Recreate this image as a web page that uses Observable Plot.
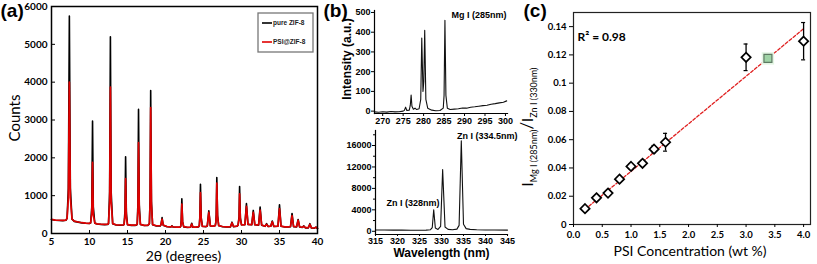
<!DOCTYPE html>
<html><head><meta charset="utf-8">
<script src="https://cdn.jsdelivr.net/npm/d3@7"></script>
<script src="https://cdn.jsdelivr.net/npm/@observablehq/plot@0.6"></script>
<style>
html,body{margin:0;padding:0;background:#fff;}
#fig{position:relative;width:817px;height:264px;overflow:hidden;background:#fff;}
#fig svg{position:absolute;left:0;top:0;background:transparent !important;overflow:visible;}
</style></head><body><div id="fig"></div>
<script>
// ---------- Panel (a) XRD ----------
const xrdAngle = [5.0,5.5,6.0,6.5,6.9,7.05,7.22,7.35,7.48,7.7,8.0,8.5,9.0,9.5,10.0,10.15,10.3,10.4,10.5,10.7,11.0,11.5,12.0,12.4,12.5,12.65,12.75,12.85,13.05,13.5,14.0,14.45,14.55,14.67,14.75,14.85,15.0,15.5,16.0,16.2,16.28,16.37,16.45,16.55,16.7,17.2,17.7,17.88,17.97,18.05,18.15,18.3,18.8,19.3,19.4,19.55,19.7,20.2,20.7,20.85,21.0,21.5,21.9,22.0,22.07,22.15,22.25,22.4,22.9,23.3,23.45,23.6,24.0,24.35,24.45,24.52,24.6,24.7,24.85,25.3,25.5,25.7,25.9,26.3,26.55,26.62,26.68,26.75,26.85,27.0,27.5,28.0,28.55,28.75,28.95,29.4,29.55,29.68,29.75,29.85,30.0,30.45,30.65,30.85,31.35,31.55,31.75,32.25,32.45,32.65,33.1,33.3,33.5,33.85,34.05,34.25,34.8,35.0,35.2,35.7,36.2,36.45,36.65,36.85,37.25,37.45,37.65,38.0,38.2,38.4,38.8,39.0,39.2,39.6,39.8,40.0];
const pureCounts = [370,350,345,340,350,400,1200,5750,1200,380,320,300,280,270,265,280,700,2970,700,270,250,240,235,240,260,1100,5200,1100,260,225,220,225,240,600,2030,550,230,215,215,225,250,800,3280,750,240,210,215,260,900,3780,850,230,200,200,230,420,220,180,170,200,170,165,165,190,350,920,320,175,160,165,270,165,165,175,210,450,1300,420,190,180,200,600,200,190,210,300,500,1480,480,210,180,170,175,300,180,190,220,450,1240,420,230,230,790,240,230,610,230,220,700,220,190,260,185,190,330,185,190,760,190,170,170,180,530,180,175,370,170,160,200,150,150,260,145,140,170,130];
const psiCounts  = [375,355,350,345,355,400,950,4000,950,380,325,305,285,275,270,285,520,1880,500,275,255,245,240,245,260,850,3870,850,260,230,225,230,240,460,1450,430,235,220,220,230,250,620,2400,600,240,215,220,260,800,3330,760,235,205,205,230,380,220,185,175,195,175,170,170,190,310,780,290,180,165,170,250,170,170,180,205,390,1080,370,190,185,200,560,200,195,210,280,450,1330,430,210,185,175,180,280,185,195,220,390,1050,370,230,235,720,240,235,560,235,225,620,225,195,240,190,195,310,190,195,660,195,175,175,185,470,185,180,350,175,165,190,155,155,240,150,145,165,135];
const xTicksA = [5,10,15,20,25,30,35,40];
const yTicksA = [0,1000,2000,3000,4000,5000,6000];
const legendA = ["pure ZIF-8", "PSI@ZIF-8"];
const colorsA = ["#000000", "#e00000"];

// ---------- Panel (b) emission spectra ----------
const mgWl  = [268,269,270,271,272,273,274,275,275.3,275.6,275.9,276.5,276.75,276.95,277.15,277.5,277.9,278.3,278.9,279.3,279.55,279.85,280.05,280.27,280.55,281.0,282,283,284,284.8,285.0,285.21,285.45,285.8,286.5,287.5,288.5,289.5,290.5,291.5,292.5,293.5,294.5,295.5,296.5,297.5,298.5,299.5,300.3];
const mgInt = [-4,-6,-3,-5,-2,-4,-3,0,4,20,3,5,30,82,25,10,15,8,12,60,370,100,150,410,60,15,5,2,3,15,80,460,80,15,8,10,12,16,15,20,22,25,28,30,35,38,42,45,52];
const znWl  = [315,317,319,321,323,325,326.5,327.5,327.9,328.23,328.6,329.2,329.8,330.26,330.8,331.5,332.5,333.5,334.0,334.5,335.0,335.6,336.5,338,340,342,345];
const znInt = [250,230,220,210,200,200,220,300,700,4000,600,350,900,11500,800,350,300,400,1100,16900,1300,500,350,280,250,230,220];
const xTicksMg = [270,275,280,285,290,295,300];
const yTicksMg = [0,100,200,300,400,500];
const xTicksZn = [315,320,325,330,335,340,345];
const yTicksZn = [0,4000,8000,12000,16000];
const yMinorZn = [2000,6000,10000,14000,18000];

// ---------- Panel (c) calibration ----------
const psiConc  = [0.2,0.4,0.6,0.8,1.0,1.2,1.4,1.6,3.0,4.0];
const ratio    = [0.0112,0.0189,0.0222,0.0321,0.0411,0.0433,0.0533,0.0582,0.1183,0.1297];
const ratioErr = [0.0011,0.0012,0.0012,0.0011,0.0017,0.0020,0.0026,0.0063,0.0094,0.0132];
const sampleX = [3.38], sampleY = [0.1175];
const fitX = [0.2, 4.0], fitY = [0.0107, 0.1385];
const xTicksC = [0,0.5,1.0,1.5,2.0,2.5,3.0,3.5,4.0];
const yTicksC = [0,0.02,0.04,0.06,0.08,0.1,0.12,0.14];

// ---------- build ----------
const W = 817, H = 264;
const fontA = "Lato, 'Open Sans', sans-serif";
const fontB = "'Liberation Sans', Arial, sans-serif";
const fig = document.getElementById("fig");
const base = (ff) => ({width: W, height: H, style: {background: "transparent", overflow: "visible", fontFamily: ff}});
const plain = d => String(d);

// Panel (a)
const xrd = xrdAngle.map((a, i) => ({a, pure: pureCounts[i], psi: psiCounts[i]}));
const pA = Plot.plot({
  ...base(fontA),
  marginLeft: 51, marginRight: W - 317, marginTop: 6, marginBottom: H - 233,
  x: {domain: [5, 40]},
  y: {domain: [0, 6000]},
  marks: [
    Plot.line(xrd, {x: "a", y: "pure", stroke: colorsA[0], strokeWidth: 1.6}),
    Plot.line(xrd, {x: "a", y: "psi", stroke: colorsA[1], strokeWidth: 1.7}),
    Plot.frame({stroke: "#000", strokeWidth: 1.5}),
    Plot.axisX({ticks: xTicksA, tickFormat: plain, tickSize: -3, tickPadding: 7, fontSize: 10, fontWeight: "bold", label: null}),
    Plot.axisY({ticks: yTicksA, tickFormat: plain, tickSize: -4, tickPadding: 8, fontSize: 10, fontWeight: "bold", label: null}),
    Plot.text(["Counts"], {text: d => d, frameAnchor: "left", textAnchor: "middle", lineAnchor: "middle", dx: -36, dy: -2, rotate: -90, fontSize: 15}),
    Plot.text(["2θ (degrees)"], {text: d => d, frameAnchor: "bottom", textAnchor: "middle", lineAnchor: "middle", dx: -1, dy: 23, fontSize: 14}),
    Plot.text(["(a)"], {text: d => d, frameAnchor: "top-left", textAnchor: "start", lineAnchor: "middle", dx: -51, dy: 4, fontSize: 19, fontWeight: "bold", fontFamily: fontB})
  ]
});
fig.appendChild(pA);
{
  const sx = pA.scale("x"), sy = pA.scale("y");
  const right = sx.range[1], top = sy.range[1];
  const g = d3.select(pA).append("g").attr("font-family", fontB).attr("text-anchor", "start");
  g.append("rect").attr("x", right - 59).attr("y", top + 7).attr("width", 55).attr("height", 39)
    .attr("fill", "#fff").attr("stroke", "#777").attr("stroke-width", 1.3);
  legendA.forEach((t, i) => {
    const yy = top + 17 + i * 19;
    g.append("line").attr("x1", right - 55).attr("x2", right - 45).attr("y1", yy).attr("y2", yy)
      .attr("stroke", colorsA[i]).attr("stroke-width", 1.6);
    g.append("text").attr("x", right - 44).attr("y", yy).attr("dy", "0.35em").attr("text-anchor", "start")
      .attr("font-size", 6.5).attr("font-weight", "bold").attr("fill", "#222").text(t);
  });
}

// Panel (b) top: Mg
const mg = mgWl.map((w, i) => ({w, v: mgInt[i]}));
const pB1 = Plot.plot({
  ...base(fontB),
  marginLeft: 374, marginRight: W - 507, marginTop: 10, marginBottom: H - 113,
  x: {domain: [268, 300.5]},
  y: {domain: [-12, 510]},
  marks: [
    Plot.line(mg, {x: "w", y: "v", stroke: "#111", strokeWidth: 1.1}),
    Plot.frame({anchor: "left", stroke: "#000", strokeWidth: 1.2}),
    Plot.frame({anchor: "bottom", stroke: "#000", strokeWidth: 1.2}),
    Plot.axisX({ticks: xTicksMg, tickFormat: plain, tickSize: 3, tickPadding: 1, fontSize: 9, fontWeight: "bold", label: null}),
    Plot.axisY({ticks: yTicksMg, tickFormat: plain, tickSize: 3, tickPadding: 1, fontSize: 9, fontWeight: "bold", label: null}),
    Plot.text(["Intensity (a.u.)"], {text: d => d, frameAnchor: "left", textAnchor: "middle", lineAnchor: "middle", dx: -27, dy: -3, rotate: -90, fontSize: 12, fontWeight: "bold"}),
    Plot.text(["Mg I (285nm)"], {text: d => d, frameAnchor: "top-right", textAnchor: "end", lineAnchor: "middle", dx: -1, dy: 5, fontSize: 9, fontWeight: "bold"}),
    Plot.text(["(b)"], {text: d => d, frameAnchor: "top-left", textAnchor: "start", lineAnchor: "middle", dx: -51, dy: 0, fontSize: 19, fontWeight: "bold"})
  ]
});
fig.appendChild(pB1);

// Panel (b) bottom: Zn
const zn = znWl.map((w, i) => ({w, v: znInt[i]}));
const pB2 = Plot.plot({
  ...base(fontB),
  marginLeft: 375, marginRight: W - 507, marginTop: 130, marginBottom: H - 234,
  x: {domain: [315, 345]},
  y: {domain: [-600, 18800]},
  marks: [
    Plot.line(zn, {x: "w", y: "v", stroke: "#111", strokeWidth: 1.1}),
    Plot.frame({anchor: "left", stroke: "#000", strokeWidth: 1.2}),
    Plot.frame({anchor: "bottom", stroke: "#000", strokeWidth: 1.2}),
    Plot.axisX({ticks: xTicksZn, tickFormat: plain, tickSize: 2, tickPadding: 1, fontSize: 9, fontWeight: "bold", label: null}),
    Plot.axisY({ticks: yTicksZn, tickFormat: plain, tickSize: 3, tickPadding: 1, fontSize: 9, fontWeight: "bold", label: null}),
    Plot.axisY({ticks: yMinorZn, tickSize: 2, tickFormat: () => "", label: null}),
    Plot.text(["Wavelength (nm)"], {text: d => d, frameAnchor: "bottom", textAnchor: "middle", lineAnchor: "middle", dy: 19, fontSize: 12, fontWeight: "bold"}),
    Plot.text(["Zn I (328nm)"], {text: d => d, frameAnchor: "bottom-left", textAnchor: "start", lineAnchor: "middle", dx: 11, dy: -31, fontSize: 9, fontWeight: "bold"}),
    Plot.text(["Zn I (334.5nm)"], {text: d => d, frameAnchor: "top-right", textAnchor: "end", lineAnchor: "middle", dx: 10, dy: 6, fontSize: 9, fontWeight: "bold"})
  ]
});
fig.appendChild(pB2);

// Panel (c)
const cData = psiConc.map((x, i) => ({x, y: ratio[i], lo: ratio[i] - ratioErr[i], hi: ratio[i] + ratioErr[i]}));
const fit = fitX.map((x, i) => ({x, y: fitY[i]}));
const sample = sampleX.map((x, i) => ({x, y: sampleY[i]}));
const pC = Plot.plot({
  ...base(fontA),
  marginLeft: 573, marginRight: W - 810, marginTop: 12, marginBottom: H - 224,
  x: {domain: [0, 4.12]},
  y: {domain: [0, 0.15]},
  marks: [
    Plot.frame({stroke: "#222", strokeWidth: 1.2}),
    Plot.line(fit, {x: "x", y: "y", stroke: "#e02020", strokeWidth: 1.3, strokeDasharray: "3,2"}),
    Plot.dot(sample, {x: "x", y: "y", symbol: "square", r: 7, fill: "#e3f5e3", stroke: "none"}),
    Plot.dot(sample, {x: "x", y: "y", symbol: "square", r: 4.5, fill: "#9fd3a6", stroke: "#5e7a63", strokeWidth: 1.2}),
    Plot.ruleX(cData, {x: "x", y1: "lo", y2: "hi", stroke: "#000", strokeWidth: 1.3}),
    Plot.ruleY(cData, {y: "lo", x1: d => d.x - 0.035, x2: d => d.x + 0.035, stroke: "#000", strokeWidth: 1.2}),
    Plot.ruleY(cData, {y: "hi", x1: d => d.x - 0.035, x2: d => d.x + 0.035, stroke: "#000", strokeWidth: 1.2}),
    Plot.dot(cData, {x: "x", y: "y", symbol: "diamond2", r: 4.2, fill: "#fff", stroke: "#000", strokeWidth: 1.7}),
    Plot.axisX({ticks: xTicksC, tickFormat: d3.format(".1f"), tickSize: 3, tickPadding: 4, fontSize: 9.5, fontWeight: "bold", label: null}),
    Plot.axisY({ticks: yTicksC, tickFormat: plain, tickSize: 4, tickPadding: 3, fontSize: 9.5, fontWeight: "bold", label: null}),
    Plot.text(["PSI Concentration (wt %)"], {text: d => d, frameAnchor: "bottom", textAnchor: "middle", lineAnchor: "middle", dx: -2, dy: 27, fontSize: 14}),
    Plot.text(["R² = 0.98"], {text: d => d, frameAnchor: "top-left", textAnchor: "start", lineAnchor: "middle", dx: 4, dy: 25, fontSize: 12, fontWeight: "bold"}),
    Plot.text(["(c)"], {text: d => d, frameAnchor: "top-left", textAnchor: "start", lineAnchor: "middle", dx: -50, dy: -2, fontSize: 19, fontWeight: "bold", fontFamily: fontB})
  ]
});
fig.appendChild(pC);
{
  const sy = pC.scale("y"), sx = pC.scale("x");
  const cx = sx.range[0] - 40, cy = (sy.range[0] + sy.range[1]) / 2 + 9;
  const t = d3.select(pC).append("text")
    .attr("transform", `translate(${cx},${cy}) rotate(-90)`)
    .attr("text-anchor", "middle").attr("font-family", fontA).attr("fill", "#000");
  t.append("tspan").attr("font-size", 15).text("I");
  t.append("tspan").attr("font-size", 9).attr("dy", 4).text("Mg I (285nm)");
  t.append("tspan").attr("font-size", 17).attr("dy", -4).text("/");
  t.append("tspan").attr("font-size", 15).text("I");
  t.append("tspan").attr("font-size", 9).attr("dy", 4).text("Zn I (330nm)");
}
</script></body></html>
